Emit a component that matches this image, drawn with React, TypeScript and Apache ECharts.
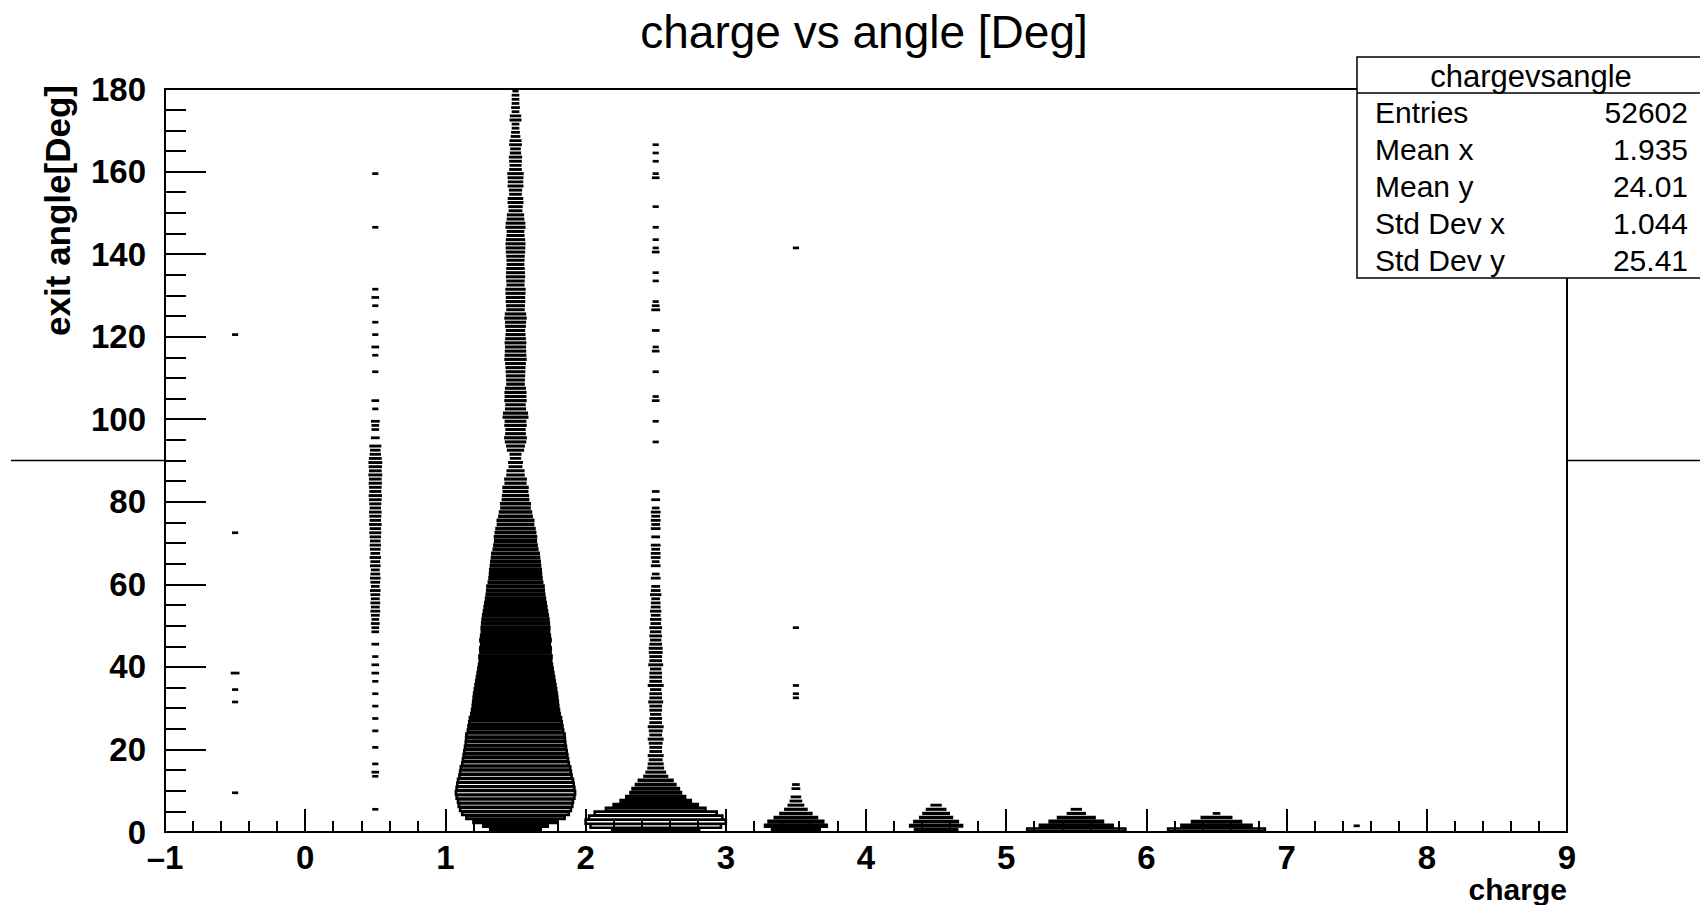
import React, { useEffect, useRef } from "react";
import * as echarts from "echarts";

// ---------- data (bin contents of the 2D histogram, 1 deg angle bins) ----------
const xEdges = [-1, 9];
const yEdges = [0, 180];
const xTickStep = 1;
const yTickStep = 20;
const xBinWidth = 1;
const yBinWidth = 1;

// column charge = 1.5, angle bins 0..179
const col15 = [
  201, 328, 558, 760, 895, 967, 1017, 1042, 1094, 1120,
  1094, 1068, 1042, 992, 967, 943, 895, 872, 849, 826,
  804, 781, 770, 760, 717, 696, 675, 655, 615, 596,
  577, 565, 552, 540, 521, 504, 486, 469, 452, 435,
  419, 403, 410, 388, 392, 372, 388, 372, 357, 360,
  350, 342, 328, 314, 300, 287, 273, 261, 252, 248,
  224, 212, 205, 201, 190, 184, 174, 169, 149, 140,
  130, 132, 122, 113, 97, 99, 82, 75, 62, 64,
  50, 48, 43, 45, 30, 32, 20, 19, 10, 12,
  6, 7, 17, 21, 28, 32, 26, 25, 31, 29,
  43, 40, 27, 25, 31, 29, 30, 27, 20, 21,
  22, 23, 24, 26, 31, 29, 28, 27, 29, 26,
  24, 22, 26, 27, 31, 28, 20, 21, 23, 22,
  24, 25, 19, 20, 22, 21, 20, 18, 19, 20,
  22, 23, 24, 22, 19, 18, 24, 23, 18, 17,
  10, 11, 14, 13, 8, 9, 14, 13, 14, 15,
  8, 7, 8, 9, 6, 5, 8, 7, 4, 3,
  2, 2, 7, 6, 2, 3, 2, 2, 2, 1,
];

// other columns: [angle bin low edge, count]
const colM05 = [[9, 1], [31, 1], [34, 1], [38, 3], [72, 1], [120, 1]];
const col05 = [
  [5, 1], [13, 1], [14, 2], [16, 1], [20, 1], [24, 1], [27, 1], [30, 1], [33, 1], [36, 1],
  [38, 2], [40, 2], [42, 1], [45, 2], [48, 2], [49, 2], [50, 3], [51, 2], [52, 3], [53, 4],
  [54, 3], [55, 4], [56, 3], [57, 4], [58, 5], [59, 3], [60, 4], [61, 5], [62, 4], [63, 3],
  [64, 5], [65, 4], [66, 6], [67, 4], [68, 5], [69, 6], [70, 5], [71, 6], [72, 7], [73, 6],
  [74, 8], [75, 6], [76, 7], [77, 8], [78, 6], [79, 7], [80, 8], [81, 9], [82, 7], [83, 8],
  [84, 9], [85, 8], [86, 10], [87, 8], [88, 9], [89, 10], [90, 8], [91, 6], [92, 5], [93, 7],
  [95, 3], [97, 2], [98, 2], [99, 3], [102, 1], [104, 2], [111, 1], [115, 1], [117, 2], [120, 1],
  [123, 1], [127, 1], [129, 2], [131, 1], [146, 1], [159, 1],
];
const col25 = [
  [0, 596], [1, 1341], [2, 1550], [3, 1399], [4, 1173], [5, 781], [6, 558], [7, 388], [8, 273], [9, 201],
  [10, 169], [11, 122], [12, 89], [13, 40], [14, 26], [15, 16], [16, 14], [17, 10], [18, 14], [19, 8],
  [20, 8], [21, 10], [22, 14], [23, 8], [24, 10], [25, 14], [26, 8], [27, 8], [28, 6], [29, 8],
  [30, 8], [31, 12], [32, 8], [33, 8], [34, 6], [35, 14], [36, 8], [37, 8], [38, 8], [39, 6],
  [40, 12], [41, 8], [42, 8], [43, 10], [44, 10], [45, 8], [46, 6], [47, 8], [48, 6], [49, 8],
  [50, 5], [51, 6], [52, 4], [53, 6], [54, 4], [55, 4], [56, 3], [57, 6], [58, 4], [59, 3],
  [61, 4], [62, 2], [64, 4], [65, 2], [66, 4], [67, 4], [68, 3], [69, 4], [71, 3], [73, 4],
  [74, 3], [75, 4], [76, 3], [77, 4], [78, 2], [80, 3], [82, 2], [94, 1], [99, 1], [104, 2],
  [105, 1], [111, 1], [116, 2], [117, 1], [121, 2], [126, 3], [127, 2], [128, 1], [133, 1], [135, 1],
  [140, 2], [141, 1], [143, 1], [146, 1], [151, 1], [158, 2], [159, 1], [162, 1], [164, 1], [166, 1],
];
const col35 = [
  [0, 179], [1, 300], [2, 236], [3, 140], [4, 75], [5, 35], [6, 16], [7, 8], [8, 5], [10, 3],
  [11, 2], [32, 1], [33, 1], [35, 1], [49, 1], [141, 1],
];
const col45 = [[0, 140], [1, 212], [2, 149], [3, 79], [4, 50], [5, 26], [6, 6]];
const col55 = [[0, 760], [1, 419], [2, 224], [3, 105], [4, 22], [5, 6]];
const col65 = [[0, 738], [1, 388], [2, 190], [3, 68], [4, 2]];
const col75 = [[1, 1]];

const chartTitle = "charge vs angle [Deg]";
const xTitle = "charge";
const yTitle = "exit angle[Deg]";
const statsName = "chargevsangle";
const statsLabels = ["Entries", "Mean x", "Mean y", "Std Dev x", "Std Dev y"];
const statsValues = ["52602", "1.935", "24.01", "1.044", "25.41"];
const markerAngle = 90;

// ---------- build cells ----------
type Cell = [number, number, number];
const cells: Cell[] = [];
col15.forEach((c, i) => { if (c > 0) cells.push([1.5, i * yBinWidth, c]); });
const sparseCols: [number, number[][]][] = [
  [-0.5, colM05], [0.5, col05], [2.5, col25], [3.5, col35],
  [4.5, col45], [5.5, col55], [6.5, col65], [7.5, col75],
];
sparseCols.forEach(([x, list]) => list.forEach(([y, c]) => cells.push([x, y, c])));
cells.sort((a, b) => (a[1] - b[1]) || (a[0] - b[0]));
const maxCount = Math.max(...cells.map((c) => c[2]));

const FONT = "'Liberation Sans', Arial, Helvetica, sans-serif";

export default function App() {
  const ref = useRef<HTMLDivElement>(null);
  useEffect(() => {
    if (!ref.current) return;
    const chart = echarts.init(ref.current, null, { renderer: "svg" });
    const axisLine = { show: true, onZero: false, lineStyle: { color: "#000", width: 2 } };
    chart.setOption({
      animation: false,
      backgroundColor: "#fff",
      grid: {
        left: 165, right: 133, top: 89, bottom: 73,
        show: true, borderColor: "#000", borderWidth: 2, backgroundColor: "#fff",
      },
      xAxis: {
        type: "value", min: xEdges[0], max: xEdges[1], interval: xTickStep, z: 5,
        axisLine, splitLine: { show: false },
        axisTick: { show: true, inside: true, length: 23, lineStyle: { color: "#000", width: 2 } },
        minorTick: { show: true, splitNumber: 5, length: 11, lineStyle: { color: "#000", width: 2 } },
        axisLabel: {
          margin: 14, color: "#000", fontFamily: FONT, fontWeight: "bold", fontSize: 33, lineHeight: 22,
          formatter: (v: number) => String(v).replace("-", "\u2013"),
        },
      },
      yAxis: {
        type: "value", min: yEdges[0], max: yEdges[1], interval: yTickStep, z: 5,
        axisLine, splitLine: { show: false },
        axisTick: { show: true, inside: true, length: 41, lineStyle: { color: "#000", width: 2 } },
        minorTick: { show: true, splitNumber: 4, length: 21, lineStyle: { color: "#000", width: 2 } },
        axisLabel: { margin: 19, color: "#000", fontFamily: FONT, fontWeight: "bold", fontSize: 33, lineHeight: 22 },
      },
      series: [
        {
          type: "custom",
          data: cells,
          encode: { x: 0, y: 1 },
          clip: false,
          z: 2,
          renderItem: (_params: any, api: any) => {
            const x = api.value(0);
            const y = api.value(1);
            const c = api.value(2);
            const r = Math.sqrt(c / maxCount);
            const p = api.coord([x, y + yBinWidth / 2]);
            const s = api.size([xBinWidth * r, yBinWidth * r]);
            return {
              type: "rect",
              shape: { x: p[0] - s[0] / 2, y: p[1] - s[1] / 2, width: s[0], height: s[1] },
              style: { fill: "#fff", stroke: "#000", lineWidth: 2.6 },
            };
          },
        },
      ],
    });

    const yMark = chart.convertToPixel({ yAxisIndex: 0 }, markerAngle) as number;
    const xLeft = chart.convertToPixel({ xAxisIndex: 0 }, xEdges[0]) as number;
    const xRight = chart.convertToPixel({ xAxisIndex: 0 }, xEdges[1]) as number;
    const statsX = 1357, statsY = 57, statsW = 360, statsH = 221, headH = 36;
    const rowH = 37;
    const graphics: any[] = [
      { type: "line", shape: { x1: 11, y1: yMark, x2: xLeft, y2: yMark }, style: { stroke: "#000", lineWidth: 1.5 }, z: 10 },
      { type: "line", shape: { x1: xRight, y1: yMark, x2: 1700, y2: yMark }, style: { stroke: "#000", lineWidth: 1.5 }, z: 10 },
      {
        type: "text", x: 864, y: 32, z: 10,
        style: { text: chartTitle, font: `46px ${FONT}`, fill: "#000", textAlign: "center", textVerticalAlign: "middle" },
      },
      {
        type: "text", x: xRight, y: 889, z: 10,
        style: { text: xTitle, font: `bold 30px ${FONT}`, fill: "#000", textAlign: "right", textVerticalAlign: "middle" },
      },
      {
        type: "text", x: 57, y: 85, rotation: Math.PI / 2, z: 10,
        style: { text: yTitle, font: `bold 35px ${FONT}`, fill: "#000", textAlign: "right", textVerticalAlign: "middle" },
      },
      {
        type: "rect", z: 20, shape: { x: statsX, y: statsY, width: statsW, height: statsH },
        style: { fill: "#fff", stroke: "#000", lineWidth: 1.5 },
      },
      {
        type: "line", z: 21, shape: { x1: statsX, y1: statsY + headH, x2: 1700, y2: statsY + headH },
        style: { stroke: "#000", lineWidth: 1.5 },
      },
      {
        type: "text", z: 22, x: 1531, y: statsY + headH / 2 + 1,
        style: { text: statsName, font: `31px ${FONT}`, fill: "#000", textAlign: "center", textVerticalAlign: "middle" },
      },
    ];
    statsLabels.forEach((lab, i) => {
      const yy = 112 + i * rowH;
      graphics.push({
        type: "text", z: 22, x: 1375, y: yy,
        style: { text: lab, font: `30px ${FONT}`, fill: "#000", textAlign: "left", textVerticalAlign: "middle" },
      });
      graphics.push({
        type: "text", z: 22, x: 1688, y: yy,
        style: { text: statsValues[i], font: `30px ${FONT}`, fill: "#000", textAlign: "right", textVerticalAlign: "middle" },
      });
    });
    chart.setOption({ graphic: graphics });
    return () => chart.dispose();
  }, []);
  return (
    <div
      ref={ref}
      style={{ position: "fixed", left: 0, top: 0, width: 1700, height: 905, background: "#fff" }}
    />
  );
}
